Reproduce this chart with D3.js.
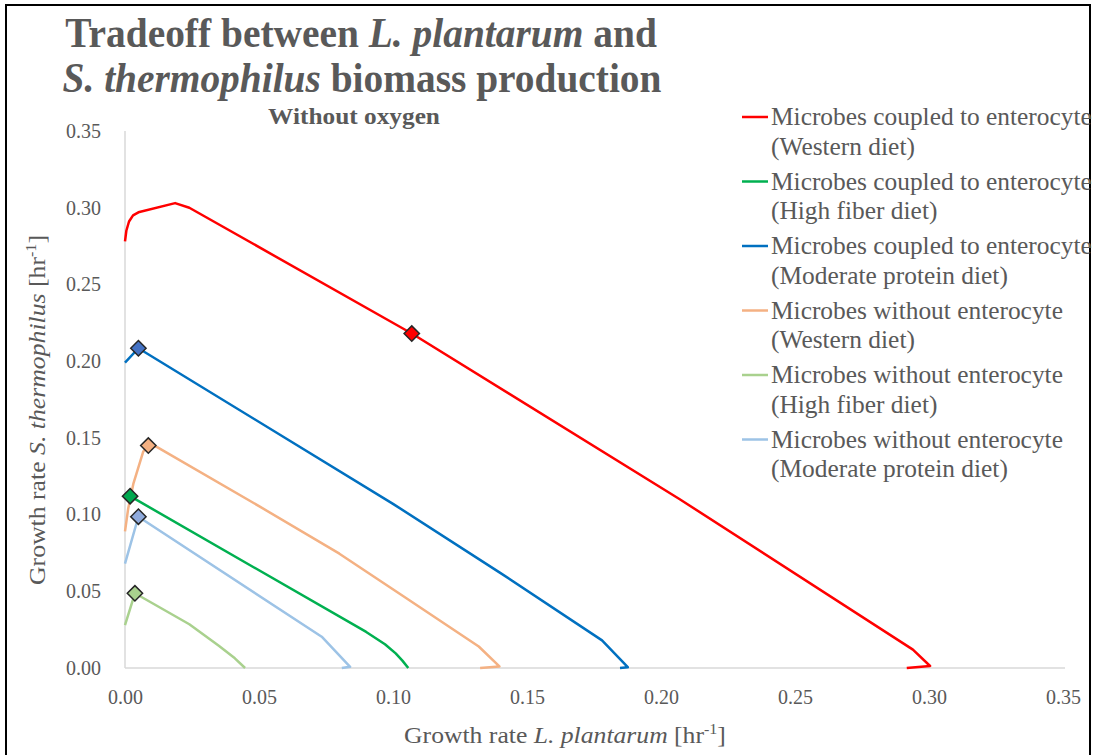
<!DOCTYPE html>
<html><head><meta charset="utf-8">
<script src="https://cdn.jsdelivr.net/npm/d3@7"></script>
<style>
body{margin:0;background:#fff}
svg{display:block}
text{font-family:"Liberation Serif","Times New Roman",serif;fill:#595959}
</style>
</head><body>
<svg id="c" width="1095" height="755"></svg>
<script>
// ---- data ----
const legendLine1 = ["Microbes coupled to enterocyte","Microbes coupled to enterocyte","Microbes coupled to enterocyte",
  "Microbes without enterocyte","Microbes without enterocyte","Microbes without enterocyte"];
const legendLine2 = ["(Western diet)","(High fiber diet)","(Moderate protein diet)",
  "(Western diet)","(High fiber diet)","(Moderate protein diet)"];
const seriesColors = ["#FF0000","#00B050","#0070C0","#F4B183","#A9D18E","#9DC3E6"];
const markerColors = ["#FF0000","#00A84F","#4472C4","#F4B183","#A9D18E","#8FAADC"];

const coupledWestern = [[0,0.278],[0.0005,0.285],[0.0015,0.291],[0.003,0.295],[0.005,0.297],[0.0187,0.303],
  [0.024,0.300],[0.107,0.218],[0.207,0.110],[0.294,0.012],[0.3004,0.0013],[0.2917,0]];
const coupledFiber = [[0.0019,0.112],[0.09,0.0235],[0.097,0.0155],[0.101,0.0095],[0.1035,0.0048],[0.1057,0]];
const coupledProtein = [[0,0.199],[0.005,0.2084],[0.10,0.107],[0.14,0.062],[0.178,0.018],[0.1876,0.0005],[0.1847,0]];
const freeWestern = [[0,0.089],[0.0012,0.104],[0.0031,0.120],[0.0068,0.141],[0.0087,0.145],[0.012,0.144],
  [0.05,0.1055],[0.08,0.0745],[0.105,0.0455],[0.132,0.014],[0.1397,0.001],[0.1325,0]];
const freeFiber = [[0,0.028],[0.0037,0.0487],[0.024,0.0285],[0.035,0.0145],[0.041,0.0063],[0.0448,0]];
const freeProtein = [[0,0.068],[0.005,0.0986],[0.0734,0.0204],[0.084,0.0008],[0.0809,0]];
const allSeries = [coupledWestern, coupledFiber, coupledProtein, freeWestern, freeFiber, freeProtein];

const markerX = [0.107,0.0019,0.005,0.0087,0.0037,0.005];
const markerY = [0.218,0.112,0.2084,0.145,0.0487,0.0986];

const xTicks = [0,0.05,0.10,0.15,0.20,0.25,0.30,0.35];
const yTicks = [0,0.05,0.10,0.15,0.20,0.25,0.30,0.35];

// ---- drawing ----
const svg = d3.select("#c");
svg.append("rect").attr("x",6).attr("y",5).attr("width",1084).attr("height",820)
  .attr("fill","#fff").attr("stroke","#000").attr("stroke-width",2);

const x = d3.scaleLinear().domain([0,0.35]).range([125,1063]);
const y = d3.scaleLinear().domain([0,0.35]).range([668,131]);

const xAxis = svg.append("g").attr("transform","translate(0,668)")
  .call(d3.axisBottom(x).tickValues(xTicks).tickSize(0).tickPadding(22).tickFormat(d3.format(".2f")));
xAxis.select(".domain").attr("stroke","#D9D9D9").attr("stroke-width",1.5).attr("d","M125,0H1065");
xAxis.selectAll("text").attr("font-size",20).attr("fill","#595959")
  .style("font-family","'Liberation Serif',serif");

const yAxis = svg.append("g").attr("transform","translate(125,0)")
  .call(d3.axisLeft(y).tickValues(yTicks).tickSize(0).tickPadding(24).tickFormat(d3.format(".2f")));
yAxis.select(".domain").attr("stroke","#D9D9D9").attr("stroke-width",1.5).attr("d","M0,131V668");
yAxis.selectAll("text").attr("font-size",20).attr("fill","#595959")
  .style("font-family","'Liberation Serif',serif");

const line = d3.line().x(d=>x(d[0])).y(d=>y(d[1]));
allSeries.forEach((s,i)=>{
  svg.append("path").attr("d",line(s)).attr("fill","none").attr("stroke",seriesColors[i])
    .attr("stroke-width",2.5).attr("stroke-linejoin","round");
});
const sym = d3.symbol().type(d3.symbolDiamond2).size(150);
markerX.forEach((mx,i)=>{
  svg.append("path").attr("d",sym()).attr("transform",`translate(${x(mx)},${y(markerY[i])})`)
    .attr("fill",markerColors[i]).attr("stroke","#262626").attr("stroke-width",1.5);
});

// fit helper: horizontally scale a text element to a target width around an anchor
function fit(t, cx, by, w){
  const bw = t.node().getComputedTextLength();
  t.attr("text-anchor","middle").attr("x",0).attr("y",0)
   .attr("transform",`translate(${cx},${by}) scale(${w/bw},1)`);
}

// titles
const t1 = svg.append("text").attr("font-size",42).attr("font-weight","bold");
t1.append("tspan").text("Tradeoff between ");
t1.append("tspan").attr("font-style","italic").text("L. plantarum");
t1.append("tspan").text(" and");
fit(t1, 361, 47, 592);
const t2 = svg.append("text").attr("font-size",42).attr("font-weight","bold");
t2.append("tspan").attr("font-style","italic").text("S. thermophilus");
t2.append("tspan").text(" biomass production");
fit(t2, 362, 92, 599);
const st = svg.append("text").attr("font-size",23).attr("font-weight","bold").text("Without oxygen");
fit(st, 354, 124, 172);

// axis titles
const xt = svg.append("text").attr("font-size",24);
xt.append("tspan").text("Growth rate ");
xt.append("tspan").attr("font-style","italic").text("L. plantarum");
xt.append("tspan").text(" [hr");
xt.append("tspan").attr("font-size",15).attr("dy",-9).text("-1");
xt.append("tspan").attr("dy",9).text("]");
fit(xt, 565, 743, 322);

const yt = svg.append("text").attr("font-size",24);
yt.append("tspan").text("Growth rate ");
yt.append("tspan").attr("font-style","italic").text("S. thermophilus");
yt.append("tspan").text(" [hr");
yt.append("tspan").attr("font-size",15).attr("dy",-9).text("-1");
yt.append("tspan").attr("dy",9).text("]");
{
  const bw = yt.node().getComputedTextLength();
  yt.attr("text-anchor","middle").attr("transform",`translate(45,410) rotate(-90) scale(${350/bw},1)`);
}

// legend
const lg = svg.append("g");
legendLine1.forEach((l1,i)=>{
  const y0 = 117 + i*64.5;
  lg.append("line").attr("x1",742).attr("x2",768).attr("y1",y0).attr("y2",y0)
    .attr("stroke",seriesColors[i]).attr("stroke-width",2.5);
  lg.append("text").attr("x",771).attr("y",y0+8).attr("font-size",25.4).text(l1);
  lg.append("text").attr("x",771).attr("y",y0+37.5).attr("font-size",25.4).text(legendLine2[i]);
});
</script>
</body></html>
